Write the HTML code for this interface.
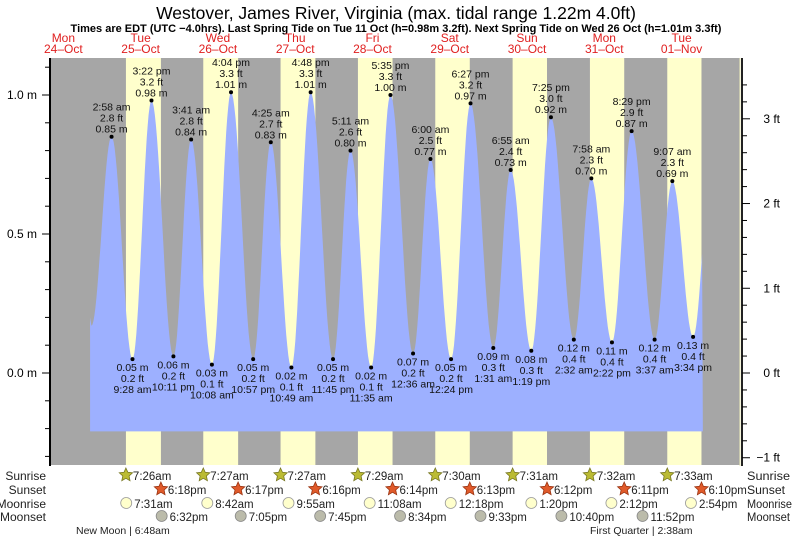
<!DOCTYPE html>
<html><head><meta charset="utf-8"><style>
body{margin:0;background:#fff;width:793px;height:539px;overflow:hidden}
svg{font-family:"Liberation Sans",sans-serif}
</style></head><body>
<svg id="s" width="793" height="539" xmlns="http://www.w3.org/2000/svg"></svg>
<script>
const s=document.getElementById('s');let h='';
const X=hr=>102+hr*3.22, Y=m=>373-m*278;
h+='<rect x="50" y="58" width="690" height="407" fill="#a6a6a6"/>';
const sr=[7.43,7.45,7.45,7.48,7.5,7.52,7.53,7.55],ss=[18.3,18.28,18.27,18.23,18.22,18.2,18.18,18.17];
for(let d=0;d<8;d++)h+=`<rect x="${X(d*24+sr[d])}" y="58" width="${X(d*24+ss[d])-X(d*24+sr[d])}" height="407" fill="#ffffcc"/>`;
const ex=[[-3.3,0.17],[2.97,.85],[9.47,.05],[15.37,.98],[22.18,.06],[27.68,.84],[34.13,.03],[40.07,1.01],[46.95,.05],[52.42,.83],[58.82,.02],[64.8,1.01],[71.75,.05],[77.18,.80],[83.58,.02],[89.58,1.0],[96.6,.07],[102,.77],[108.4,.05],[114.45,.97],[121.52,.09],[126.92,.73],[133.32,.08],[139.42,.92],[146.53,.12],[151.97,.70],[158.37,.11],[164.48,.87],[171.62,.12],[177.12,.69],[183.57,.13],[189.8,.84]];
let p=`M${X(-3.7)},${Y(-0.21)} L${X(-3.7)},${Y(0.2)}`;
for(let i=0;i<ex.length-1;i++){const[a,b]=ex[i],[c,d]=ex[i+1];for(let k=0;k<=20;k++){const t=a+(c-a)*k/20;if(t<-3.7||t>186.6)continue;const v=b+(d-b)*(1-Math.cos(Math.PI*k/20))/2;p+=` L${X(t).toFixed(1)},${Y(v).toFixed(1)}`;}}
p+=` L${X(186.6)},${Y(-0.21)} Z`;
h+=`<path d="${p}" fill="#9db0ff"/>`;
const lab=[["2:58 am",.85],["9:28 am",.05],["3:22 pm",.98],["10:11 pm",.06],["3:41 am",.84],["10:08 am",.03],["4:04 pm",1.01],["10:57 pm",.05],["4:25 am",.83],["10:49 am",.02],["4:48 pm",1.01],["11:45 pm",.05],["5:11 am",.80],["11:35 am",.02],["5:35 pm",1.00],["12:36 am",.07],["6:00 am",.77],["12:24 pm",.05],["6:27 pm",.97],["1:31 am",.09],["6:55 am",.73],["1:19 pm",.08],["7:25 pm",.92],["2:32 am",.12],["7:58 am",.70],["2:22 pm",.11],["8:29 pm",.87],["3:37 am",.12],["9:07 am",.69],["3:34 pm",.13]];
for(let i=0;i<lab.length;i++){const x=X(ex[i+1][0]),m=lab[i][1],y=Y(m),ft=(m*3.2808).toFixed(1)+' ft',ms=m.toFixed(2)+' m';
h+=`<circle cx="${x}" cy="${y}" r="2" fill="#000"/>`;
const hi=m>0.5;const t=(str,yy)=>h+=`<text x="${x}" y="${yy}" font-size="10.5" text-anchor="middle" fill="#111">${str}</text>`;
if(hi){t(lab[i][0],y-26);t(ft,y-15);t(ms,y-4);}else{t(ms,y+12);t(ft,y+23);t(lab[i][0],y+34);}}
h+='<line x1="50" y1="58" x2="50" y2="466" stroke="#000" stroke-width="2"/>';
for(let v=-0.3;v<=1.15;v+=0.1){const y=Y(v);if(y<58||y>465)continue;const maj=Math.abs(v*2-Math.round(v*2))<.01;h+=`<line x1="${maj?42:45}" y1="${y}" x2="50" y2="${y}" stroke="#000"/>`;}
[[1,"1.0 m"],[.5,"0.5 m"],[0,"0.0 m"]].forEach(([v,t])=>h+=`<text x="37" y="${Y(v)+4}" font-size="12" text-anchor="end">${t}</text>`);
h+='<line x1="740" y1="58" x2="740" y2="466" stroke="#eeeebb" stroke-width="1"/><line x1="742" y1="58" x2="742" y2="466" stroke="#222" stroke-width="2"/>';
for(let f=-1.2;f<=3.6;f+=0.2){const y=Y(f*0.3048);if(y<58||y>465)continue;const maj=Math.abs(f-Math.round(f))<.01;h+=`<line x1="742" y1="${y}" x2="${maj?750:747}" y2="${y}" stroke="#000"/>`;}
[[3,"3 ft"],[2,"2 ft"],[1,"1 ft"],[0,"0 ft"],[-1,"\u22121 ft"]].forEach(([f,t])=>h+=`<text x="780" y="${Y(f*.3048)+4}" font-size="12" text-anchor="end">${t}</text>`);
h+='<text x="396" y="19" font-size="17.5" text-anchor="middle">Westover, James River, Virginia (max. tidal range 1.22m 4.0ft)</text>';
h+='<text x="396" y="32" font-size="11" font-weight="bold" text-anchor="middle">Times are EDT (UTC \u22124.0hrs). Last Spring Tide on Tue 11 Oct (h=0.98m 3.2ft). Next Spring Tide on Wed 26 Oct (h=1.01m 3.3ft)</text>';
const dn=["Mon","Tue","Wed","Thu","Fri","Sat","Sun","Mon","Tue"],dd=["24","25","26","27","28","29","30","31","01"],mo=["Oct","Oct","Oct","Oct","Oct","Oct","Oct","Oct","Nov"];
for(let i=0;i<9;i++){const x=X((i-1)*24+12);h+=`<text x="${x}" y="42" font-size="12" fill="#e02020" text-anchor="middle">${dn[i]}</text><text x="${x}" y="53" font-size="12" fill="#e02020" text-anchor="middle">${dd[i]}\u2013${mo[i]}</text>`;}
const rows=[["Sunrise",480],["Sunset",494],["Moonrise",508],["Moonset",521]];
rows.forEach(([t,y])=>{h+=`<text x="46" y="${y}" font-size="12" text-anchor="end" fill="#222">${t}</text><text x="747" y="${y}" font-size="11.5" textLength="${t.length>7?45:t==='Sunset'?38:43}" lengthAdjust="spacingAndGlyphs" fill="#222">${t}</text>`;});
const star=(cx,cy,f,st)=>{let pts=[];for(let k=0;k<10;k++){const r=k%2?3.3:7,a=-Math.PI/2+k*Math.PI/5;pts.push((cx+r*Math.cos(a)).toFixed(1)+','+(cy+r*Math.sin(a)).toFixed(1));}h+=`<polygon points="${pts.join(' ')}" fill="${f}" stroke="${st}" stroke-width="0.8"/>`;};
const srt=["7:26am","7:27am","7:27am","7:29am","7:30am","7:31am","7:32am","7:33am"],sst=["6:18pm","6:17pm","6:16pm","6:14pm","6:13pm","6:12pm","6:11pm","6:10pm"];
const mr=[[7.52,"7:31am"],[8.7,"8:42am"],[9.92,"9:55am"],[11.13,"11:08am"],[12.3,"12:18pm"],[13.33,"1:20pm"],[14.2,"2:12pm"],[14.9,"2:54pm"]];
const ms=[[18.53,"6:32pm"],[19.08,"7:05pm"],[19.75,"7:45pm"],[20.57,"8:34pm"],[21.55,"9:33pm"],[22.67,"10:40pm"],[23.87,"11:52pm"]];
for(let d=0;d<8;d++){let x=X(d*24+sr[d]);star(x,475,"#bbbb33","#777722");h+=`<text x="${x+7}" y="480" font-size="11.5" fill="#222">${srt[d]}</text>`;
x=X(d*24+ss[d]);star(x,489,"#e05a2a","#993311");h+=`<text x="${x+7}" y="494" font-size="11.5" fill="#222">${sst[d]}</text>`;
x=X(d*24+mr[d][0]);h+=`<circle cx="${x}" cy="503" r="5.5" fill="#ffffcc" stroke="#999" stroke-width=".8"/><text x="${x+8}" y="508" font-size="11.5" fill="#222">${mr[d][1]}</text>`;
if(d<7){x=X(d*24+ms[d][0]);h+=`<circle cx="${x}" cy="516" r="5.5" fill="#bbbbaa" stroke="#888" stroke-width=".8"/><text x="${x+8}" y="521" font-size="11.5" fill="#222">${ms[d][1]}</text>`;}}
h+='<text x="76" y="534" font-size="10.5" fill="#222">New Moon | 6:48am</text><text x="590" y="534" font-size="10.5" fill="#222">First Quarter | 2:38am</text>';
s.innerHTML=h;
</script></body></html>
